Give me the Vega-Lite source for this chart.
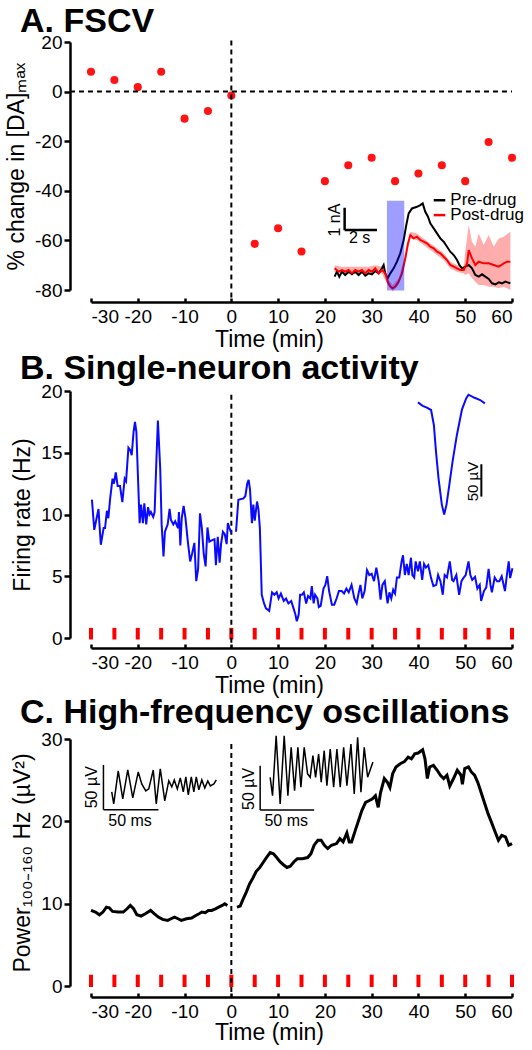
{
  "$schema": "https://vega.github.io/schema/vega-lite/v6.json",
  "padding": {"left": 5, "top": 5, "right": 5, "bottom": 5},
  "background": "white",
  "config": {
    "font": "Liberation Sans",
    "view": {"stroke": null},
    "axis": {"grid": false, "domainColor": "black", "domainWidth": 2.5, "tickColor": "black", "tickWidth": 2.5, "labelFont": "Liberation Sans", "labelFontSize": 19, "labelColor": "black", "titleFont": "Liberation Sans", "titleFontSize": 23, "titleFontWeight": "normal", "titleColor": "black", "labelExpr": "'' + datum.value"},
    "title": {"font": "Liberation Sans", "fontSize": 34, "fontWeight": "bold", "anchor": "start", "frame": "group", "color": "black", "dx": -71, "offset": -6},
    "text": {"font": "Liberation Sans", "color": "black"}
  },
  "spacing": 101,
  "bounds": "flush",
  "datasets": {
    "one": [{"k": 1}],
    "events": [{"t": -30}, {"t": -25}, {"t": -20}, {"t": -15}, {"t": -10}, {"t": -5}, {"t": 0}, {"t": 5}, {"t": 10}, {"t": 15}, {"t": 20}, {"t": 25}, {"t": 30}, {"t": 35}, {"t": 40}, {"t": 45}, {"t": 50}, {"t": 55}, {"t": 60}],
    "dotsA": [{"t": -30, "v": 8}, {"t": -25, "v": 4.7}, {"t": -20, "v": 1.8}, {"t": -15, "v": 8}, {"t": -10, "v": -10.9}, {"t": -5, "v": -7.8}, {"t": 0, "v": -1.6}, {"t": 5, "v": -61.4}, {"t": 10, "v": -55.1}, {"t": 15, "v": -64.5}, {"t": 20, "v": -36.1}, {"t": 25, "v": -29.7}, {"t": 30, "v": -26.7}, {"t": 35, "v": -36.1}, {"t": 40, "v": -33}, {"t": 45, "v": -29.7}, {"t": 50, "v": -36.1}, {"t": 55, "v": -20.3}, {"t": 60, "v": -26.7}],
    "fscvPre": [{"t": 22.08, "v": -74.62}, {"t": 22.57, "v": -72.61}, {"t": 23.07, "v": -74.62}, {"t": 23.64, "v": -72.61}, {"t": 24.35, "v": -73.95}, {"t": 25.08, "v": -72.61}, {"t": 25.78, "v": -73.68}, {"t": 26.49, "v": -72.61}, {"t": 27.21, "v": -73.95}, {"t": 27.92, "v": -72.61}, {"t": 28.63, "v": -74.22}, {"t": 29.35, "v": -73.28}, {"t": 30.06, "v": -73.68}, {"t": 30.77, "v": -72.34}, {"t": 31.49, "v": -73.28}, {"t": 32.2, "v": -71.26}, {"t": 32.56, "v": -69.92}, {"t": 32.91, "v": -73.28}, {"t": 33.42, "v": -75.29}, {"t": 33.98, "v": -73.28}, {"t": 34.7, "v": -71.26}, {"t": 35.41, "v": -68.58}, {"t": 36.11, "v": -65.23}, {"t": 36.84, "v": -59.86}, {"t": 37.4, "v": -53.82}, {"t": 37.91, "v": -49.12}, {"t": 38.62, "v": -47.11}, {"t": 39.69, "v": -46.44}, {"t": 40.39, "v": -45.77}, {"t": 40.91, "v": -45.1}, {"t": 41.46, "v": -48.45}, {"t": 42.04, "v": -50.46}, {"t": 42.53, "v": -53.15}, {"t": 43.26, "v": -55.16}, {"t": 43.97, "v": -57.17}, {"t": 44.67, "v": -59.19}, {"t": 45.4, "v": -60.53}, {"t": 46.11, "v": -62.54}, {"t": 46.81, "v": -64.55}, {"t": 47.54, "v": -65.9}, {"t": 48.25, "v": -67.91}, {"t": 48.74, "v": -69.92}, {"t": 49.32, "v": -71.26}, {"t": 50.02, "v": -70.59}, {"t": 50.75, "v": -69.92}, {"t": 51.45, "v": -71.26}, {"t": 52.16, "v": -73.95}, {"t": 52.89, "v": -74.62}, {"t": 53.59, "v": -73.68}, {"t": 54.3, "v": -74.62}, {"t": 55.03, "v": -75.56}, {"t": 55.73, "v": -77.3}, {"t": 56.44, "v": -77.7}, {"t": 57.17, "v": -76.9}, {"t": 57.87, "v": -77.3}, {"t": 58.58, "v": -76.63}, {"t": 59.65, "v": -77.3}],
    "fscvPost": [{"t": 22.08, "v": -71.26}, {"t": 22.93, "v": -72.61}, {"t": 23.64, "v": -71.94}, {"t": 24.35, "v": -72.61}, {"t": 25.08, "v": -71.94}, {"t": 25.78, "v": -73.28}, {"t": 26.49, "v": -71.94}, {"t": 27.21, "v": -72.61}, {"t": 27.92, "v": -71.94}, {"t": 28.63, "v": -73.28}, {"t": 29.35, "v": -71.94}, {"t": 30.06, "v": -72.61}, {"t": 30.77, "v": -71.26}, {"t": 31.49, "v": -73.28}, {"t": 32.2, "v": -71.94}, {"t": 32.91, "v": -73.28}, {"t": 33.42, "v": -76.63}, {"t": 33.98, "v": -78.64}, {"t": 34.49, "v": -79.31}, {"t": 35.06, "v": -78.64}, {"t": 35.78, "v": -76.63}, {"t": 36.48, "v": -73.28}, {"t": 37.19, "v": -67.24}, {"t": 37.76, "v": -61.2}, {"t": 38.26, "v": -57.84}, {"t": 38.98, "v": -59.19}, {"t": 39.69, "v": -58.51}, {"t": 40.39, "v": -59.86}, {"t": 41.11, "v": -60.53}, {"t": 41.82, "v": -61.2}, {"t": 42.53, "v": -62.54}, {"t": 43.26, "v": -63.21}, {"t": 43.97, "v": -64.55}, {"t": 44.67, "v": -65.23}, {"t": 45.4, "v": -66.57}, {"t": 46.11, "v": -67.91}, {"t": 46.81, "v": -69.92}, {"t": 47.54, "v": -70.59}, {"t": 48.25, "v": -71.26}, {"t": 48.96, "v": -71.94}, {"t": 49.68, "v": -71.94}, {"t": 50.39, "v": -69.25}, {"t": 50.75, "v": -63.88}, {"t": 51.45, "v": -67.24}, {"t": 52.16, "v": -69.92}, {"t": 52.89, "v": -68.58}, {"t": 53.95, "v": -69.25}, {"t": 55.03, "v": -69.25}, {"t": 56.09, "v": -69.92}, {"t": 57.17, "v": -70.59}, {"t": 58.24, "v": -69.25}, {"t": 58.94, "v": -68.58}, {"t": 59.65, "v": -68.58}],
    "bandPost": [{"t": 22.08, "lo": -72.6, "hi": -70.0}, {"t": 23.64, "lo": -73.3, "hi": -70.6}, {"t": 25.08, "lo": -73.3, "hi": -70.6}, {"t": 26.49, "lo": -73.3, "hi": -70.6}, {"t": 27.92, "lo": -73.3, "hi": -70.6}, {"t": 29.35, "lo": -73.3, "hi": -70.6}, {"t": 30.77, "lo": -72.6, "hi": -70.0}, {"t": 32.2, "lo": -73.3, "hi": -70.6}, {"t": 33.42, "lo": -78.0, "hi": -75.3}, {"t": 34.49, "lo": -80.6, "hi": -78.0}, {"t": 35.78, "lo": -78.0, "hi": -75.3}, {"t": 37.19, "lo": -68.6, "hi": -65.9}, {"t": 38.26, "lo": -59.2, "hi": -56.5}, {"t": 39.69, "lo": -59.9, "hi": -57.2}, {"t": 41.11, "lo": -61.9, "hi": -59.2}, {"t": 42.53, "lo": -63.9, "hi": -61.2}, {"t": 43.97, "lo": -65.9, "hi": -63.2}, {"t": 45.4, "lo": -67.9, "hi": -65.2}, {"t": 46.81, "lo": -71.3, "hi": -68.6}, {"t": 48.25, "lo": -72.6, "hi": -69.9}, {"t": 49.68, "lo": -73.3, "hi": -70.6}, {"t": 50.0, "lo": -73.95, "hi": -64.55}, {"t": 50.75, "lo": -73.28, "hi": -53.82}, {"t": 51.45, "lo": -75.29, "hi": -60.53}, {"t": 52.16, "lo": -76.63, "hi": -62.54}, {"t": 52.89, "lo": -77.97, "hi": -57.17}, {"t": 53.95, "lo": -77.97, "hi": -61.87}, {"t": 55.03, "lo": -78.64, "hi": -57.84}, {"t": 56.09, "lo": -78.64, "hi": -62.54}, {"t": 57.17, "lo": -79.31, "hi": -59.19}, {"t": 58.24, "lo": -78.64, "hi": -58.51}, {"t": 59.65, "lo": -79.99, "hi": -56.5}],
    "neuron": [{"s": "pre", "t": -29.8, "v": 11.2}, {"s": "pre", "t": -29.3, "v": 8.76}, {"s": "pre", "t": -28.8, "v": 9.7}, {"s": "pre", "t": -28.4, "v": 10.45}, {"s": "pre", "t": -27.9, "v": 7.55}, {"s": "pre", "t": -27.3, "v": 8.9}, {"s": "pre", "t": -27.0, "v": 8.9}, {"s": "pre", "t": -26.6, "v": 10.3}, {"s": "pre", "t": -26.3, "v": 9.7}, {"s": "pre", "t": -25.9, "v": 11.3}, {"s": "pre", "t": -25.4, "v": 12.9}, {"s": "pre", "t": -25.1, "v": 12.5}, {"s": "pre", "t": -24.7, "v": 13.4}, {"s": "pre", "t": -24.3, "v": 12.3}, {"s": "pre", "t": -23.8, "v": 12.3}, {"s": "pre", "t": -23.3, "v": 11.0}, {"s": "pre", "t": -22.8, "v": 12.9}, {"s": "pre", "t": -22.5, "v": 12.7}, {"s": "pre", "t": -22.0, "v": 15.4}, {"s": "pre", "t": -21.6, "v": 15.2}, {"s": "pre", "t": -21.3, "v": 14.8}, {"s": "pre", "t": -20.9, "v": 16.7}, {"s": "pre", "t": -20.6, "v": 17.5}, {"s": "pre", "t": -20.3, "v": 16.7}, {"s": "pre", "t": -19.9, "v": 12.4}, {"s": "pre", "t": -19.6, "v": 9.3}, {"s": "pre", "t": -19.3, "v": 10.8}, {"s": "pre", "t": -18.9, "v": 9.3}, {"s": "pre", "t": -18.6, "v": 10.9}, {"s": "pre", "t": -18.2, "v": 9.2}, {"s": "pre", "t": -17.8, "v": 10.6}, {"s": "pre", "t": -17.5, "v": 10.0}, {"s": "pre", "t": -17.2, "v": 10.2}, {"s": "pre", "t": -16.7, "v": 9.8}, {"s": "pre", "t": -16.4, "v": 10.2}, {"s": "pre", "t": -16.0, "v": 14.6}, {"s": "pre", "t": -15.7, "v": 17.6}, {"s": "pre", "t": -15.2, "v": 13.7}, {"s": "pre", "t": -14.9, "v": 9.2}, {"s": "pre", "t": -14.5, "v": 6.6}, {"s": "pre", "t": -14.2, "v": 8.6}, {"s": "pre", "t": -13.6, "v": 9.2}, {"s": "pre", "t": -13.2, "v": 10.45}, {"s": "pre", "t": -12.9, "v": 9.55}, {"s": "pre", "t": -12.4, "v": 9.2}, {"s": "pre", "t": -12.0, "v": 9.45}, {"s": "pre", "t": -11.4, "v": 8.9}, {"s": "pre", "t": -11.2, "v": 10.2}, {"s": "pre", "t": -10.9, "v": 7.5}, {"s": "pre", "t": -10.6, "v": 9.7}, {"s": "pre", "t": -10.2, "v": 10.7}, {"s": "pre", "t": -9.8, "v": 9.7}, {"s": "pre", "t": -9.3, "v": 7.8}, {"s": "pre", "t": -8.8, "v": 6.2}, {"s": "pre", "t": -8.4, "v": 6.8}, {"s": "pre", "t": -7.9, "v": 7.7}, {"s": "pre", "t": -7.5, "v": 4.6}, {"s": "pre", "t": -7.1, "v": 5.6}, {"s": "pre", "t": -6.7, "v": 10.1}, {"s": "pre", "t": -6.3, "v": 8.9}, {"s": "pre", "t": -5.9, "v": 6.8}, {"s": "pre", "t": -5.5, "v": 5.8}, {"s": "pre", "t": -5.1, "v": 8.95}, {"s": "pre", "t": -4.7, "v": 7.8}, {"s": "pre", "t": -4.2, "v": 7.9}, {"s": "pre", "t": -3.6, "v": 8.0}, {"s": "pre", "t": -3.3, "v": 5.9}, {"s": "pre", "t": -2.9, "v": 8.2}, {"s": "pre", "t": -2.5, "v": 6.1}, {"s": "pre", "t": -2.2, "v": 7.6}, {"s": "pre", "t": -1.8, "v": 8.6}, {"s": "pre", "t": -1.4, "v": 8.4}, {"s": "pre", "t": -1.0, "v": 7.6}, {"s": "pre", "t": -0.75, "v": 9.3}, {"s": "pre", "t": -0.4, "v": 8.9}, {"s": "pre", "t": 0.0, "v": 8.5}, {"s": "post", "t": 1.0, "v": 8.6}, {"s": "post", "t": 1.5, "v": 11.2}, {"s": "post", "t": 2.6, "v": 11.3}, {"s": "post", "t": 3.0, "v": 11.5}, {"s": "post", "t": 3.4, "v": 12.5}, {"s": "post", "t": 3.7, "v": 12.8}, {"s": "post", "t": 4.0, "v": 12.0}, {"s": "post", "t": 4.4, "v": 9.3}, {"s": "post", "t": 4.7, "v": 10.8}, {"s": "post", "t": 5.0, "v": 9.5}, {"s": "post", "t": 5.5, "v": 11.05}, {"s": "post", "t": 5.8, "v": 10.4}, {"s": "post", "t": 6.1, "v": 8.9}, {"s": "post", "t": 6.5, "v": 3.5}, {"s": "post", "t": 7.0, "v": 2.8}, {"s": "post", "t": 7.4, "v": 2.4}, {"s": "post", "t": 8.1, "v": 2.2}, {"s": "post", "t": 8.7, "v": 3.7}, {"s": "post", "t": 9.2, "v": 3.5}, {"s": "post", "t": 9.7, "v": 3.7}, {"s": "post", "t": 10.1, "v": 3.2}, {"s": "post", "t": 10.6, "v": 3.6}, {"s": "post", "t": 11.2, "v": 3.0}, {"s": "post", "t": 11.7, "v": 3.2}, {"s": "post", "t": 12.2, "v": 2.8}, {"s": "post", "t": 12.8, "v": 3.0}, {"s": "post", "t": 13.3, "v": 2.4}, {"s": "post", "t": 13.7, "v": 1.9}, {"s": "post", "t": 14.0, "v": 1.35}, {"s": "post", "t": 14.4, "v": 1.9}, {"s": "post", "t": 14.7, "v": 3.5}, {"s": "post", "t": 15.1, "v": 3.5}, {"s": "post", "t": 15.5, "v": 3.7}, {"s": "post", "t": 16.0, "v": 2.8}, {"s": "post", "t": 16.4, "v": 3.4}, {"s": "post", "t": 16.9, "v": 3.2}, {"s": "post", "t": 17.2, "v": 4.2}, {"s": "post", "t": 17.6, "v": 2.8}, {"s": "post", "t": 17.9, "v": 3.5}, {"s": "post", "t": 18.4, "v": 3.2}, {"s": "post", "t": 18.7, "v": 2.5}, {"s": "post", "t": 19.1, "v": 2.6}, {"s": "post", "t": 19.7, "v": 4.0}, {"s": "post", "t": 20.1, "v": 4.3}, {"s": "post", "t": 20.5, "v": 5.0}, {"s": "post", "t": 20.9, "v": 3.8}, {"s": "post", "t": 21.5, "v": 2.7}, {"s": "post", "t": 22.0, "v": 2.7}, {"s": "post", "t": 22.5, "v": 3.2}, {"s": "post", "t": 23.0, "v": 3.8}, {"s": "post", "t": 23.6, "v": 3.8}, {"s": "post", "t": 24.1, "v": 3.6}, {"s": "post", "t": 24.6, "v": 4.0}, {"s": "post", "t": 25.1, "v": 3.7}, {"s": "post", "t": 25.7, "v": 4.3}, {"s": "post", "t": 26.3, "v": 3.2}, {"s": "post", "t": 26.8, "v": 2.8}, {"s": "post", "t": 27.2, "v": 3.6}, {"s": "post", "t": 27.6, "v": 4.3}, {"s": "post", "t": 28.0, "v": 3.2}, {"s": "post", "t": 28.5, "v": 3.8}, {"s": "post", "t": 29.0, "v": 5.5}, {"s": "post", "t": 29.5, "v": 5.1}, {"s": "post", "t": 30.0, "v": 5.2}, {"s": "post", "t": 30.5, "v": 4.6}, {"s": "post", "t": 31.0, "v": 5.7}, {"s": "post", "t": 31.5, "v": 4.6}, {"s": "post", "t": 31.9, "v": 3.1}, {"s": "post", "t": 32.3, "v": 4.3}, {"s": "post", "t": 32.8, "v": 4.6}, {"s": "post", "t": 33.4, "v": 2.8}, {"s": "post", "t": 33.8, "v": 3.7}, {"s": "post", "t": 34.2, "v": 3.2}, {"s": "post", "t": 34.6, "v": 3.9}, {"s": "post", "t": 35.0, "v": 3.6}, {"s": "post", "t": 35.4, "v": 4.9}, {"s": "post", "t": 35.9, "v": 4.9}, {"s": "post", "t": 36.4, "v": 6.2}, {"s": "post", "t": 36.7, "v": 6.7}, {"s": "post", "t": 37.1, "v": 5.1}, {"s": "post", "t": 37.5, "v": 6.0}, {"s": "post", "t": 37.9, "v": 5.1}, {"s": "post", "t": 38.4, "v": 6.5}, {"s": "post", "t": 38.7, "v": 5.1}, {"s": "post", "t": 39.1, "v": 4.9}, {"s": "post", "t": 39.4, "v": 6.2}, {"s": "post", "t": 39.9, "v": 5.4}, {"s": "post", "t": 40.3, "v": 6.2}, {"s": "post", "t": 40.8, "v": 4.7}, {"s": "post", "t": 41.2, "v": 6.0}, {"s": "post", "t": 41.6, "v": 5.7}, {"s": "post", "t": 42.1, "v": 5.9}, {"s": "post", "t": 42.7, "v": 4.85}, {"s": "post", "t": 43.2, "v": 4.2}, {"s": "post", "t": 43.8, "v": 4.3}, {"s": "post", "t": 44.2, "v": 5.1}, {"s": "post", "t": 44.7, "v": 4.6}, {"s": "post", "t": 45.2, "v": 3.5}, {"s": "post", "t": 45.6, "v": 5.1}, {"s": "post", "t": 46.1, "v": 4.9}, {"s": "post", "t": 46.7, "v": 6.2}, {"s": "post", "t": 47.2, "v": 4.7}, {"s": "post", "t": 47.5, "v": 4.6}, {"s": "post", "t": 48.1, "v": 5.1}, {"s": "post", "t": 48.7, "v": 3.5}, {"s": "post", "t": 49.2, "v": 4.6}, {"s": "post", "t": 49.6, "v": 4.85}, {"s": "post", "t": 50.1, "v": 5.1}, {"s": "post", "t": 50.7, "v": 6.2}, {"s": "post", "t": 51.1, "v": 5.1}, {"s": "post", "t": 51.5, "v": 4.7}, {"s": "post", "t": 52.1, "v": 4.95}, {"s": "post", "t": 52.6, "v": 4.0}, {"s": "post", "t": 53.1, "v": 4.3}, {"s": "post", "t": 53.4, "v": 3.0}, {"s": "post", "t": 54.0, "v": 3.8}, {"s": "post", "t": 54.5, "v": 4.1}, {"s": "post", "t": 55.0, "v": 5.6}, {"s": "post", "t": 55.4, "v": 4.3}, {"s": "post", "t": 55.7, "v": 3.7}, {"s": "post", "t": 56.3, "v": 4.9}, {"s": "post", "t": 56.8, "v": 4.6}, {"s": "post", "t": 57.3, "v": 4.6}, {"s": "post", "t": 57.8, "v": 5.0}, {"s": "post", "t": 58.5, "v": 3.8}, {"s": "post", "t": 58.9, "v": 5.1}, {"s": "post", "t": 59.3, "v": 6.2}, {"s": "post", "t": 59.6, "v": 4.85}, {"s": "post", "t": 60.1, "v": 5.65}],
    "spike": [{"t": 39.9, "v": 19.08}, {"t": 40.9, "v": 18.8}, {"t": 41.8, "v": 18.65}, {"t": 42.7, "v": 18.46}, {"t": 43.3, "v": 17.25}, {"t": 43.75, "v": 15.1}, {"t": 44.3, "v": 12.9}, {"t": 45.0, "v": 10.8}, {"t": 45.5, "v": 10.0}, {"t": 46.0, "v": 10.8}, {"t": 46.6, "v": 12.4}, {"t": 47.3, "v": 14.3}, {"t": 48.2, "v": 16.4}, {"t": 49.3, "v": 18.5}, {"t": 50.2, "v": 19.4}, {"t": 50.7, "v": 19.7}, {"t": 52.0, "v": 19.45}, {"t": 53.2, "v": 19.27}, {"t": 54.2, "v": 19.0}],
    "hfo": [{"s": "pre", "t": -30, "v": 9.18}, {"s": "pre", "t": -29.05, "v": 8.98}, {"s": "pre", "t": -28.2, "v": 8.65}, {"s": "pre", "t": -27.45, "v": 8.98}, {"s": "pre", "t": -26.7, "v": 9.58}, {"s": "pre", "t": -26.1, "v": 9.5}, {"s": "pre", "t": -25.4, "v": 9.06}, {"s": "pre", "t": -24.2, "v": 8.98}, {"s": "pre", "t": -23.1, "v": 8.98}, {"s": "pre", "t": -22.3, "v": 9.38}, {"s": "pre", "t": -21.6, "v": 9.79}, {"s": "pre", "t": -20.9, "v": 9.38}, {"s": "pre", "t": -20.2, "v": 8.65}, {"s": "pre", "t": -19.3, "v": 8.5}, {"s": "pre", "t": -18.3, "v": 8.8}, {"s": "pre", "t": -17.25, "v": 9.18}, {"s": "pre", "t": -16.5, "v": 8.8}, {"s": "pre", "t": -15.6, "v": 8.37}, {"s": "pre", "t": -14.7, "v": 8.09}, {"s": "pre", "t": -13.6, "v": 7.97}, {"s": "pre", "t": -12.9, "v": 8.17}, {"s": "pre", "t": -12.15, "v": 8.37}, {"s": "pre", "t": -11.4, "v": 8.17}, {"s": "pre", "t": -10.7, "v": 7.97}, {"s": "pre", "t": -9.6, "v": 8.17}, {"s": "pre", "t": -8.5, "v": 8.25}, {"s": "pre", "t": -7.6, "v": 8.57}, {"s": "pre", "t": -6.9, "v": 8.78}, {"s": "pre", "t": -6.3, "v": 8.98}, {"s": "pre", "t": -5.6, "v": 8.9}, {"s": "pre", "t": -4.9, "v": 9.18}, {"s": "pre", "t": -4.2, "v": 9.18}, {"s": "pre", "t": -3.4, "v": 9.38}, {"s": "pre", "t": -2.7, "v": 9.58}, {"s": "pre", "t": -1.95, "v": 9.79}, {"s": "pre", "t": -1.4, "v": 9.99}, {"s": "pre", "t": -0.85, "v": 9.79}, {"s": "post", "t": 1.2, "v": 9.58}, {"s": "post", "t": 1.9, "v": 9.7}, {"s": "post", "t": 2.4, "v": 10.4}, {"s": "post", "t": 3.2, "v": 11.4}, {"s": "post", "t": 3.9, "v": 12.4}, {"s": "post", "t": 4.6, "v": 13.1}, {"s": "post", "t": 5.3, "v": 13.9}, {"s": "post", "t": 6.1, "v": 14.4}, {"s": "post", "t": 6.8, "v": 15.0}, {"s": "post", "t": 7.5, "v": 15.6}, {"s": "post", "t": 8.3, "v": 16.2}, {"s": "post", "t": 9.0, "v": 16.05}, {"s": "post", "t": 9.7, "v": 15.6}, {"s": "post", "t": 10.4, "v": 15.1}, {"s": "post", "t": 11.2, "v": 14.7}, {"s": "post", "t": 11.9, "v": 14.4}, {"s": "post", "t": 12.6, "v": 14.55}, {"s": "post", "t": 13.4, "v": 15.1}, {"s": "post", "t": 14.1, "v": 15.45}, {"s": "post", "t": 15.2, "v": 15.45}, {"s": "post", "t": 16.3, "v": 15.6}, {"s": "post", "t": 17.0, "v": 16.05}, {"s": "post", "t": 17.7, "v": 17.1}, {"s": "post", "t": 18.5, "v": 17.7}, {"s": "post", "t": 19.2, "v": 17.7}, {"s": "post", "t": 19.9, "v": 17.1}, {"s": "post", "t": 20.6, "v": 16.7}, {"s": "post", "t": 21.4, "v": 17.1}, {"s": "post", "t": 22.5, "v": 17.3}, {"s": "post", "t": 23.2, "v": 17.9}, {"s": "post", "t": 23.9, "v": 17.5}, {"s": "post", "t": 24.7, "v": 18.6}, {"s": "post", "t": 25.2, "v": 17.5}, {"s": "post", "t": 25.7, "v": 17.5}, {"s": "post", "t": 26.5, "v": 18.9}, {"s": "post", "t": 27.2, "v": 20.1}, {"s": "post", "t": 27.9, "v": 21.3}, {"s": "post", "t": 28.7, "v": 22.3}, {"s": "post", "t": 29.4, "v": 22.5}, {"s": "post", "t": 30.1, "v": 22.7}, {"s": "post", "t": 30.8, "v": 23.1}, {"s": "post", "t": 31.4, "v": 21.7}, {"s": "post", "t": 31.9, "v": 23.5}, {"s": "post", "t": 32.7, "v": 25.2}, {"s": "post", "t": 33.4, "v": 24.7}, {"s": "post", "t": 33.9, "v": 24.1}, {"s": "post", "t": 34.5, "v": 25.8}, {"s": "post", "t": 35.2, "v": 26.6}, {"s": "post", "t": 36.1, "v": 27.0}, {"s": "post", "t": 37.0, "v": 27.25}, {"s": "post", "t": 37.8, "v": 27.8}, {"s": "post", "t": 38.5, "v": 27.6}, {"s": "post", "t": 39.2, "v": 28.2}, {"s": "post", "t": 39.95, "v": 28.3}, {"s": "post", "t": 40.9, "v": 28.7}, {"s": "post", "t": 41.4, "v": 27.6}, {"s": "post", "t": 41.9, "v": 25.2}, {"s": "post", "t": 42.4, "v": 26.6}, {"s": "post", "t": 43.2, "v": 26.8}, {"s": "post", "t": 44.0, "v": 26.2}, {"s": "post", "t": 44.7, "v": 25.6}, {"s": "post", "t": 45.4, "v": 25.2}, {"s": "post", "t": 46.1, "v": 25.6}, {"s": "post", "t": 46.7, "v": 24.3}, {"s": "post", "t": 47.5, "v": 25.2}, {"s": "post", "t": 48.3, "v": 26.2}, {"s": "post", "t": 49.1, "v": 25.6}, {"s": "post", "t": 49.4, "v": 24.5}, {"s": "post", "t": 49.9, "v": 26.4}, {"s": "post", "t": 50.7, "v": 26.6}, {"s": "post", "t": 51.3, "v": 26.0}, {"s": "post", "t": 52.0, "v": 25.6}, {"s": "post", "t": 52.7, "v": 24.7}, {"s": "post", "t": 53.4, "v": 23.5}, {"s": "post", "t": 54.2, "v": 22.1}, {"s": "post", "t": 54.9, "v": 20.9}, {"s": "post", "t": 55.6, "v": 19.9}, {"s": "post", "t": 56.4, "v": 18.7}, {"s": "post", "t": 57.1, "v": 17.7}, {"s": "post", "t": 57.8, "v": 18.3}, {"s": "post", "t": 58.6, "v": 18.1}, {"s": "post", "t": 59.3, "v": 17.1}, {"s": "post", "t": 60.0, "v": 17.3}],
    "wave1": [{"t": -25.57, "v": 23.57}, {"t": -25.14, "v": 22.12}, {"t": -24.18, "v": 26.12}, {"t": -23.21, "v": 22.72}, {"t": -22.14, "v": 26.24}, {"t": -21.07, "v": 22.84}, {"t": -19.9, "v": 26.0}, {"t": -19.15, "v": 24.55}, {"t": -18.29, "v": 23.69}, {"t": -17.65, "v": 23.94}, {"t": -16.69, "v": 26.24}, {"t": -16.05, "v": 22.12}, {"t": -15.19, "v": 26.37}, {"t": -14.23, "v": 22.48}, {"t": -13.37, "v": 24.91}, {"t": -12.73, "v": 24.18}, {"t": -12.2, "v": 25.03}, {"t": -11.55, "v": 23.94}, {"t": -10.91, "v": 25.27}, {"t": -10.27, "v": 23.57}, {"t": -9.73, "v": 25.39}, {"t": -9.2, "v": 23.21}, {"t": -8.56, "v": 25.39}, {"t": -8.02, "v": 23.57}, {"t": -7.49, "v": 25.39}, {"t": -6.95, "v": 23.82}, {"t": -6.31, "v": 25.03}, {"t": -5.67, "v": 24.06}, {"t": -5.03, "v": 24.91}, {"t": -4.49, "v": 24.3}, {"t": -3.74, "v": 24.55}, {"t": -3.21, "v": 25.03}],
    "wave2": [{"t": 8.3, "v": 25.35}, {"t": 8.81, "v": 23.12}, {"t": 9.58, "v": 30.4}, {"t": 10.44, "v": 22.12}, {"t": 11.3, "v": 30.4}, {"t": 12.09, "v": 23.12}, {"t": 12.79, "v": 28.99}, {"t": 13.52, "v": 23.73}, {"t": 14.23, "v": 28.99}, {"t": 14.87, "v": 24.14}, {"t": 15.58, "v": 28.99}, {"t": 16.3, "v": 25.76}, {"t": 16.86, "v": 25.35}, {"t": 17.44, "v": 27.98}, {"t": 18.01, "v": 25.35}, {"t": 18.66, "v": 28.18}, {"t": 19.21, "v": 24.75}, {"t": 19.85, "v": 28.58}, {"t": 20.43, "v": 24.34}, {"t": 21.14, "v": 28.79}, {"t": 21.87, "v": 24.14}, {"t": 22.57, "v": 28.79}, {"t": 23.28, "v": 24.14}, {"t": 24.01, "v": 28.99}, {"t": 24.71, "v": 24.34}, {"t": 25.57, "v": 29.39}, {"t": 26.27, "v": 23.33}, {"t": 27.0, "v": 30.21}, {"t": 27.71, "v": 23.53}, {"t": 28.41, "v": 28.99}, {"t": 29.14, "v": 25.35}, {"t": 30.27, "v": 27.21}]
  },
  "vconcat": [
    {
      "width": 421,
      "height": 248,
      "title": {"text": "A. FSCV", "offset": -6},
      "layer": [
        {"data": {"name": "dotsA"}, "mark": {"type": "point", "filled": true, "size": 65, "color": "#ff1414", "opacity": 1},
         "encoding": {
          "x": {"field": "t", "type": "quantitative", "scale": {"domain": [-30, 60], "nice": false, "zero": false}, "axis": {"values": [-30, -20, -10, 0, 10, 20, 30, 40, 50, 60], "title": "Time (min)", "offset": 12, "tickSize": -4, "labelPadding": 9, "titleX": 178, "titlePadding": 2}},
          "y": {"field": "v", "type": "quantitative", "scale": {"domain": [-80, 20], "nice": false, "zero": false}, "axis": {"values": [-80, -60, -40, -20, 0, 20], "title": "% change in [DA]ₘₐₓ", "offset": 21, "tickSize": 6, "labelPadding": 2, "titlePadding": 6}}
         }},
        {"data": {"name": "one"}, "mark": {"type": "rule", "strokeDash": [5, 4], "strokeWidth": 2, "color": "black"}, "encoding": {"x": {"datum": -34.5}, "x2": {"datum": 60}, "y": {"datum": 0}}},
        {"data": {"name": "one"}, "mark": {"type": "rule", "strokeDash": [5, 4], "strokeWidth": 2, "color": "black"}, "encoding": {"x": {"datum": 0}, "y": {"datum": 20.6}, "y2": {"datum": -85}}},
        {"data": {"name": "bandPost"}, "mark": {"type": "area", "color": "#ff3030", "opacity": 0.4}, "encoding": {"x": {"field": "t", "type": "quantitative"}, "y": {"field": "lo", "type": "quantitative"}, "y2": {"field": "hi"}}},
        {"data": {"name": "fscvPre"}, "mark": {"type": "line", "color": "black", "strokeWidth": 2}, "encoding": {"x": {"field": "t", "type": "quantitative"}, "y": {"field": "v", "type": "quantitative"}}},
        {"data": {"name": "fscvPost"}, "mark": {"type": "line", "color": "#ff0000", "strokeWidth": 2}, "encoding": {"x": {"field": "t", "type": "quantitative"}, "y": {"field": "v", "type": "quantitative"}}},
        {"data": {"name": "one"}, "mark": {"type": "rect", "color": "#0000ff", "opacity": 0.38}, "encoding": {"x": {"datum": 33.27}, "x2": {"datum": 36.97}, "y": {"datum": -44}, "y2": {"datum": -80.2}}},
        {"data": {"name": "one"}, "mark": {"type": "rule", "strokeWidth": 2.5, "color": "black"}, "encoding": {"x": {"datum": 24.22}, "y": {"datum": -46.83}, "y2": {"datum": -55.85}}},
        {"data": {"name": "one"}, "mark": {"type": "rule", "strokeWidth": 2.5, "color": "black"}, "encoding": {"x": {"datum": 24.22}, "x2": {"datum": 31.13}, "y": {"datum": -55.85}}},
        {"data": {"name": "one"}, "mark": {"type": "text", "text": "1 nA", "angle": 270, "fontSize": 16, "align": "center", "baseline": "middle"}, "encoding": {"x": {"datum": 22.21}, "y": {"datum": -51.8}}},
        {"data": {"name": "one"}, "mark": {"type": "text", "text": "2 s", "fontSize": 16, "align": "center", "baseline": "middle"}, "encoding": {"x": {"datum": 27.42}, "y": {"datum": -59.2}}},
        {"data": {"name": "one"}, "mark": {"type": "rule", "strokeWidth": 2.5, "color": "black"}, "encoding": {"x": {"datum": 43.26}, "x2": {"datum": 45.74}, "y": {"datum": -43.8}}},
        {"data": {"name": "one"}, "mark": {"type": "rule", "strokeWidth": 2.5, "color": "#ff0000"}, "encoding": {"x": {"datum": 43.26}, "x2": {"datum": 45.74}, "y": {"datum": -49.8}}},
        {"data": {"name": "one"}, "mark": {"type": "text", "text": "Pre-drug", "fontSize": 17, "align": "left", "baseline": "middle"}, "encoding": {"x": {"datum": 46.81}, "y": {"datum": -43.8}}},
        {"data": {"name": "one"}, "mark": {"type": "text", "text": "Post-drug", "fontSize": 17, "align": "left", "baseline": "middle"}, "encoding": {"x": {"datum": 46.81}, "y": {"datum": -49.8}}}
      ]
    },
    {
      "width": 421,
      "height": 247,
      "title": {"text": "B. Single-neuron activity", "offset": -3.5},
      "layer": [
        {"data": {"name": "events"}, "mark": {"type": "rule", "strokeWidth": 4, "color": "#ff0000", "strokeCap": "butt"},
         "encoding": {
          "x": {"field": "t", "type": "quantitative", "scale": {"domain": [-30, 60], "nice": false, "zero": false}, "axis": {"values": [-30, -20, -10, 0, 10, 20, 30, 40, 50, 60], "title": "Time (min)", "offset": 10, "tickSize": -4, "labelPadding": 9, "titleX": 178, "titlePadding": 2}},
          "y": {"datum": -0.12, "scale": {"domain": [0, 20], "nice": false, "zero": false}, "axis": {"values": [0, 5, 10, 15, 20], "title": "Firing rate (Hz)", "offset": 21, "tickSize": 6, "labelPadding": 2, "titlePadding": 6}},
          "y2": {"datum": 0.82}
         }},
        {"data": {"name": "one"}, "mark": {"type": "rule", "strokeDash": [5, 4], "strokeWidth": 2, "color": "black"}, "encoding": {"x": {"datum": 0}, "y": {"datum": 19.7}, "y2": {"datum": -0.8}}},
        {"data": {"name": "neuron"}, "mark": {"type": "line", "color": "#0a0aff", "strokeWidth": 2}, "encoding": {"x": {"field": "t", "type": "quantitative"}, "y": {"field": "v", "type": "quantitative"}, "detail": {"field": "s"}}},
        {"data": {"name": "spike"}, "mark": {"type": "line", "color": "#0a0aff", "strokeWidth": 2}, "encoding": {"x": {"field": "t", "type": "quantitative"}, "y": {"field": "v", "type": "quantitative"}}},
        {"data": {"name": "one"}, "mark": {"type": "rule", "strokeWidth": 2, "color": "black"}, "encoding": {"x": {"datum": 53.45}, "y": {"datum": 14.07}, "y2": {"datum": 11.45}}},
        {"data": {"name": "one"}, "mark": {"type": "text", "text": "50 µV", "angle": 270, "fontSize": 15, "align": "center", "baseline": "middle"}, "encoding": {"x": {"datum": 51.6}, "y": {"datum": 12.67}}}
      ]
    },
    {
      "width": 421,
      "height": 247,
      "title": {"text": "C. High-frequency oscillations", "offset": 0.5},
      "layer": [
        {"data": {"name": "events"}, "mark": {"type": "rule", "strokeWidth": 4, "color": "#ff0000", "strokeCap": "butt"},
         "encoding": {
          "x": {"field": "t", "type": "quantitative", "scale": {"domain": [-30, 60], "nice": false, "zero": false}, "axis": {"values": [-30, -20, -10, 0, 10, 20, 30, 40, 50, 60], "title": "Time (min)", "offset": 11, "tickSize": -4, "labelPadding": 9, "titleX": 178, "titlePadding": 0}},
          "y": {"datum": -0.12, "scale": {"domain": [0, 30], "nice": false, "zero": false}, "axis": {"values": [0, 10, 20, 30], "title": "Power₁₀₀₋₁₆₀ Hz (µV²)", "offset": 21, "tickSize": 6, "labelPadding": 2, "titlePadding": 6}},
          "y2": {"datum": 1.37}
         }},
        {"data": {"name": "one"}, "mark": {"type": "rule", "strokeDash": [5, 4], "strokeWidth": 2, "color": "black"}, "encoding": {"x": {"datum": 0}, "y": {"datum": 29.4}, "y2": {"datum": -1.5}}},
        {"data": {"name": "hfo"}, "mark": {"type": "line", "color": "black", "strokeWidth": 3}, "encoding": {"x": {"field": "t", "type": "quantitative"}, "y": {"field": "v", "type": "quantitative"}, "detail": {"field": "s"}}},
        {"data": {"name": "wave1"}, "mark": {"type": "line", "color": "black", "strokeWidth": 1.5}, "encoding": {"x": {"field": "t", "type": "quantitative"}, "y": {"field": "v", "type": "quantitative"}}},
        {"data": {"name": "wave2"}, "mark": {"type": "line", "color": "black", "strokeWidth": 1.5}, "encoding": {"x": {"field": "t", "type": "quantitative"}, "y": {"field": "v", "type": "quantitative"}}},
        {"data": {"name": "one"}, "mark": {"type": "rule", "strokeWidth": 1.5, "color": "black"}, "encoding": {"x": {"datum": -27.34}, "y": {"datum": 26.85}, "y2": {"datum": 21.42}}},
        {"data": {"name": "one"}, "mark": {"type": "rule", "strokeWidth": 1.5, "color": "black"}, "encoding": {"x": {"datum": -27.34}, "x2": {"datum": -15.58}, "y": {"datum": 21.42}}},
        {"data": {"name": "one"}, "mark": {"type": "rule", "strokeWidth": 1.5, "color": "black"}, "encoding": {"x": {"datum": 6.16}, "y": {"datum": 26.76}, "y2": {"datum": 21.39}}},
        {"data": {"name": "one"}, "mark": {"type": "rule", "strokeWidth": 1.5, "color": "black"}, "encoding": {"x": {"datum": 6.16}, "x2": {"datum": 17.71}, "y": {"datum": 21.39}}},
        {"data": {"name": "one"}, "mark": {"type": "text", "text": "50 µV", "angle": 270, "fontSize": 16, "align": "center", "baseline": "middle"}, "encoding": {"x": {"datum": -29.85}, "y": {"datum": 24.14}}},
        {"data": {"name": "one"}, "mark": {"type": "text", "text": "50 µV", "angle": 270, "fontSize": 16, "align": "center", "baseline": "middle"}, "encoding": {"x": {"datum": 3.68}, "y": {"datum": 23.94}}},
        {"data": {"name": "one"}, "mark": {"type": "text", "text": "50 ms", "fontSize": 16, "align": "center", "baseline": "middle"}, "encoding": {"x": {"datum": -21.65}, "y": {"datum": 20.09}}},
        {"data": {"name": "one"}, "mark": {"type": "text", "text": "50 ms", "fontSize": 16, "align": "center", "baseline": "middle"}, "encoding": {"x": {"datum": 11.73}, "y": {"datum": 20.09}}}
      ]
    }
  ]
}
